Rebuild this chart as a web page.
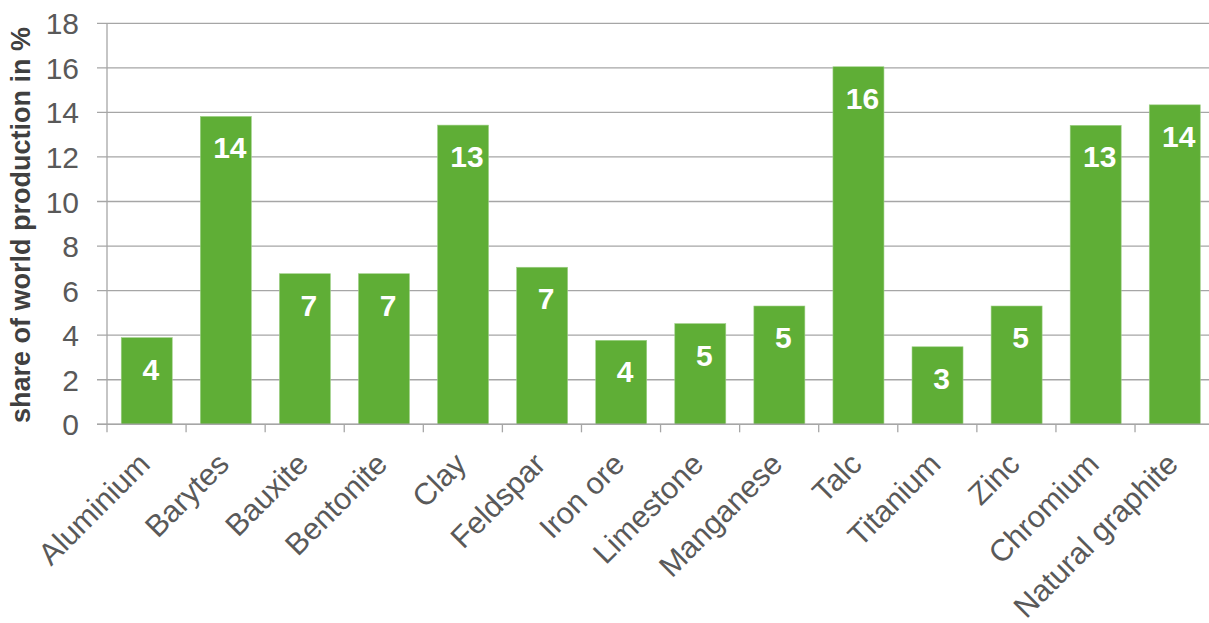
<!DOCTYPE html>
<html>
<head>
<meta charset="utf-8">
<script src="https://cdn.jsdelivr.net/npm/d3@7"></script>
<style>
  body { margin: 0; background: #fff; }
  svg { display: block; font-family: "Liberation Sans", Arial, sans-serif; }
</style>
</head>
<body>
<div id="chart"></div>
<script>
var minerals = ["Aluminium", "Barytes", "Bauxite", "Bentonite", "Clay", "Feldspar", "Iron ore",
  "Limestone", "Manganese", "Talc", "Titanium", "Zinc", "Chromium", "Natural graphite"];
var share = [3.89, 13.82, 6.76, 6.76, 13.43, 7.05, 3.77, 4.52, 5.31, 16.05, 3.48, 5.31, 13.42, 14.34];
var yTicks = [0, 2, 4, 6, 8, 10, 12, 14, 16, 18];

var w = 1209;
var h = 623;

var svg = d3
  .select("#chart")
  .append("svg")
  .attr("width", w)
  .attr("height", h);

var x = d3
  .scaleBand()
  .domain(minerals)
  .range([107, 1214.5])
  .paddingInner(0.355)
  .paddingOuter(0.18);

var y = d3
  .scaleLinear()
  .domain([0, 18])
  .range([424.3, 23.3]);

var grey = "#a6a6a6";

// gridlines (they stick out left of the axis like ticks)
svg.append("g")
  .selectAll("line")
  .data(yTicks)
  .enter()
  .append("line")
  .attr("x1", 97)
  .attr("x2", w)
  .attr("y1", function(d) { return y(d); })
  .attr("y2", function(d) { return y(d); })
  .attr("stroke", grey)
  .attr("stroke-width", 1.3);

// y tick labels
svg.append("g")
  .selectAll("text")
  .data(yTicks)
  .enter()
  .append("text")
  .attr("x", 79)
  .attr("y", function(d) { return y(d) + 11; })
  .attr("text-anchor", "end")
  .attr("font-size", 30)
  .attr("fill", "#595959")
  .text(function(d) { return d; });

// bars
svg.append("g")
  .selectAll("rect")
  .data(share)
  .enter()
  .append("rect")
  .attr("x", function(d, i) { return x(minerals[i]); })
  .attr("width", x.bandwidth())
  .attr("y", function(d) { return y(d); })
  .attr("height", function(d) { return y(0) - y(d); })
  .attr("fill", "#5fae36")
  .attr("stroke", "#9fd088")
  .attr("stroke-width", 0.6);

// value labels
svg.append("g")
  .selectAll("text")
  .data(share)
  .enter()
  .append("text")
  .attr("x", function(d, i) { return x(minerals[i]) + x.bandwidth() / 2 + 4; })
  .attr("y", function(d) { return y(d) + 42; })
  .attr("text-anchor", "middle")
  .attr("font-size", 30)
  .attr("font-weight", "bold")
  .attr("fill", "#fff")
  .text(function(d) { return Math.round(d); });

// axes lines
var step = x.step();
var bounds = d3.range(minerals.length + 1).map(function(i) { return 107 + i * step; });

svg.append("line")
  .attr("x1", 107).attr("x2", 107)
  .attr("y1", y(18)).attr("y2", y(0))
  .attr("stroke", grey).attr("stroke-width", 1.3);

svg.append("line")
  .attr("x1", 97).attr("x2", w)
  .attr("y1", y(0)).attr("y2", y(0))
  .attr("stroke", grey).attr("stroke-width", 1.5);

svg.append("g")
  .selectAll("line")
  .data(bounds)
  .enter()
  .append("line")
  .attr("x1", function(d) { return d; })
  .attr("x2", function(d) { return d; })
  .attr("y1", y(0))
  .attr("y2", y(0) + 8)
  .attr("stroke", grey)
  .attr("stroke-width", 1.3);

// category labels, rotated
svg.append("g")
  .selectAll("text")
  .data(minerals)
  .enter()
  .append("text")
  .attr("transform", function(d) {
    return "translate(" + (x(d) + x.bandwidth() / 2 + 5) + ",466) rotate(-45)";
  })
  .attr("text-anchor", "end")
  .attr("font-size", 30.5)
  .attr("fill", "#595959")
  .text(function(d) { return d; });

// y axis title
svg.append("text")
  .attr("transform", "translate(30,225) rotate(-90)")
  .attr("text-anchor", "middle")
  .attr("font-size", 27)
  .attr("font-weight", "bold")
  .attr("fill", "#404040")
  .text("share of world production in %");
</script>
</body>
</html>
